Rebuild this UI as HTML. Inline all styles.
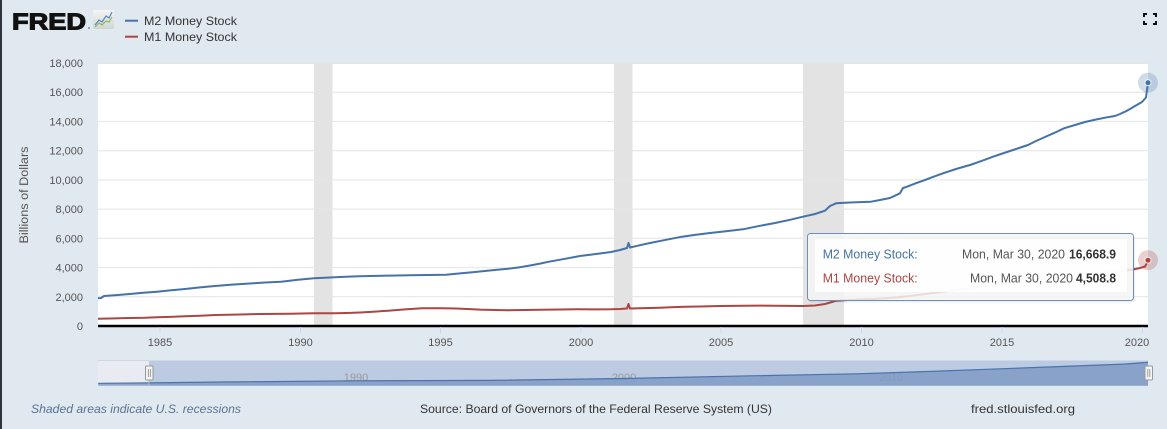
<!DOCTYPE html>
<html><head><meta charset="utf-8"><style>
html,body{margin:0;padding:0;background:#e1e9f0;}
svg{display:block;}
text{font-family:"Liberation Sans",sans-serif;}
</style></head><body>
<svg width="1167" height="429" viewBox="0 0 1167 429" xmlns="http://www.w3.org/2000/svg">
<rect x="0" y="0" width="1167" height="429" fill="#e1e9f0"/>
<rect x="0" y="0" width="2" height="429" fill="#2e353d"/>

<!-- logo -->
<text x="12" y="29.5" font-size="23" font-weight="bold" fill="#111" stroke="#111" stroke-width="1.1" textLength="74" lengthAdjust="spacingAndGlyphs">FRED</text>
<circle cx="89" cy="28" r="0.9" fill="#666"/>
<defs><linearGradient id="lg" x1="0" y1="0" x2="0" y2="1"><stop offset="0" stop-color="#f4f5f4"/><stop offset="1" stop-color="#cfd6d2"/></linearGradient></defs>
<rect x="93" y="10" width="21" height="19" rx="2" fill="url(#lg)"/>
<polyline points="95,25 99,20 102,22 106,16 109,18 112,12" fill="none" stroke="#5d85b8" stroke-width="1.2"/>
<polyline points="95,27 99,23 102,25 106,21 109,22 112,17" fill="none" stroke="#8cb860" stroke-width="1.2"/>

<!-- legend -->
<line x1="125" y1="20.7" x2="138" y2="20.7" stroke="#4572a7" stroke-width="2"/>
<text x="144" y="25" font-size="12" fill="#333" textLength="93" lengthAdjust="spacingAndGlyphs">M2 Money Stock</text>
<line x1="125" y1="36.7" x2="138" y2="36.7" stroke="#aa4643" stroke-width="2"/>
<text x="144" y="41" font-size="12" fill="#333" textLength="93" lengthAdjust="spacingAndGlyphs">M1 Money Stock</text>

<!-- fullscreen icon -->
<g stroke="#111" stroke-width="2" fill="none">
<polyline points="1144,17 1144,14 1147,14"/>
<polyline points="1153,14 1156,14 1156,17"/>
<polyline points="1144,21 1144,24 1147,24"/>
<polyline points="1153,24 1156,24 1156,21"/>
</g>

<!-- plot area -->
<rect x="98" y="63" width="1050" height="263" fill="#ffffff"/>
<!-- recessions -->
<rect x="314" y="63" width="18.5" height="263" fill="#e3e3e3"/>
<rect x="614" y="63" width="18.5" height="263" fill="#e3e3e3"/>
<rect x="803" y="63" width="41" height="263" fill="#e3e3e3"/>
<!-- gridlines -->
<g stroke="#e4e4e4" stroke-width="1">
<line x1="98" y1="63.5" x2="1148" y2="63.5"/>
<line x1="98" y1="92.2" x2="1148" y2="92.2"/>
<line x1="98" y1="121.4" x2="1148" y2="121.4"/>
<line x1="98" y1="150.7" x2="1148" y2="150.7"/>
<line x1="98" y1="179.9" x2="1148" y2="179.9"/>
<line x1="98" y1="209.1" x2="1148" y2="209.1"/>
<line x1="98" y1="238.3" x2="1148" y2="238.3"/>
<line x1="98" y1="267.6" x2="1148" y2="267.6"/>
<line x1="98" y1="296.8" x2="1148" y2="296.8"/>
</g>

<!-- y labels -->
<g font-size="11" fill="#555" text-anchor="end">
<text x="83" y="67">18,000</text>
<text x="83" y="96">16,000</text>
<text x="83" y="125.5">14,000</text>
<text x="83" y="154.7">12,000</text>
<text x="83" y="184">10,000</text>
<text x="83" y="213">8,000</text>
<text x="83" y="242.3">6,000</text>
<text x="83" y="271.6">4,000</text>
<text x="83" y="300.8">2,000</text>
<text x="83" y="330">0</text>
</g>
<text transform="translate(28,195) rotate(-90)" font-size="11.5" fill="#555" text-anchor="middle" textLength="97" lengthAdjust="spacingAndGlyphs">Billions of Dollars</text>

<!-- series -->
<polyline fill="none" stroke="#aa4643" stroke-width="2" stroke-linejoin="round" points="98,318.7 115,318.4 130,318 145,317.8 157,317.3 170,316.9 185,316.3 200,315.7 215.5,315 240,314.5 260,314 290,313.7 314,313.3 336,313.3 350,312.9 360,312.5 375,311.6 388,310.7 405,309.4 422,308.3 440,308.2 456,308.5 470,309.1 480,309.6 495,310 508,310.3 525,310 540,309.8 560,309.5 577,309.3 595,309.4 611,309.3 620,309 627,308.5 628.5,304 630,308.5 640,308.2 650,308 660,307.7 671,307.3 685,306.8 700,306.5 720,306 743,305.7 760,305.6 775,305.8 790,305.9 803,306 815,305.5 825,304 832,302 836,300.7 848,300 860,299.5 873,299 886,298.3 898,297.2 910,296 925,294 943,291.7 955,290 970,288 985,286 1000,284 1015,282.3 1030,280.5 1047,278.8 1064,277 1077,275.4 1090,274 1102,273 1114,272 1125,270.7 1133,269.5 1140,268 1145,266.5 1147,263 1148,260.2"/>
<polyline fill="none" stroke="#4572a7" stroke-width="2" stroke-linejoin="round" points="98,298.3 101,298 104,296 118,295 130,294 143,292.8 157,291.7 170,290.4 185,289 200,287.4 215,286 232,284.6 250,283.5 265,282.5 281,281.7 298,279.8 314,278.3 327,277.6 340,277 355,276.4 370,276 390,275.6 410,275.3 428,275 446,274.7 460,273.4 475,272 492,270.3 508,268.7 520,267.2 530,265.5 540,263.6 549,261.7 565,258.8 580,256 596,254 611,252 620,250 627,248 628.5,243 630,247.5 640,245.2 650,243 666,239.8 682,236.7 696,234.8 710,233 726,231.2 743,229.3 758,226.2 775,223 790,219.8 803,216.7 815,214 825,210.7 830,206 836,203.3 850,202.5 860,202.1 871,201.7 880,200 890,198 900,193.3 903,188 907,186.7 916,183.2 925,180 934,176.6 943,173.3 956,169 970,165 982,160.8 993,156.7 1001,154 1010,151 1019,148 1028,145 1036,141 1045,137 1055,132.6 1064,128.3 1075,125 1085,122 1096,119.5 1107,117.3 1115,116 1120,114 1125,111.7 1130,109 1135,106 1142,102 1146,97.5 1147,90 1148,82.7"/>

<!-- x axis -->
<line x1="98" y1="326" x2="1148" y2="326" stroke="#000" stroke-width="2.5"/>
<g stroke="#ccd6eb" stroke-width="1">
<line x1="160" y1="327" x2="160" y2="333"/>
<line x1="300.5" y1="327" x2="300.5" y2="333"/>
<line x1="440.5" y1="327" x2="440.5" y2="333"/>
<line x1="581" y1="327" x2="581" y2="333"/>
<line x1="721" y1="327" x2="721" y2="333"/>
<line x1="861.5" y1="327" x2="861.5" y2="333"/>
<line x1="1002" y1="327" x2="1002" y2="333"/>
<line x1="1142.5" y1="327" x2="1142.5" y2="333"/>
</g>
<g font-size="11" fill="#555" text-anchor="middle">
<text x="160" y="346">1985</text>
<text x="300.5" y="346">1990</text>
<text x="440.5" y="346">1995</text>
<text x="581" y="346">2000</text>
<text x="721" y="346">2005</text>
<text x="861.5" y="346">2010</text>
<text x="1002" y="346">2015</text>
<text x="1137" y="346">2020</text>
</g>

<!-- hover markers -->
<circle cx="1148" cy="82.7" r="10" fill="#4572a7" fill-opacity="0.25"/>
<circle cx="1148" cy="82.7" r="3" fill="#4572a7" stroke="#fff" stroke-width="0.8"/>
<circle cx="1148" cy="260.2" r="10" fill="#aa4643" fill-opacity="0.25"/>
<circle cx="1148" cy="260.2" r="3" fill="#aa4643" stroke="#fff" stroke-width="0.8"/>

<!-- tooltip -->
<rect x="809" y="235.5" width="326" height="67" rx="3" fill="#000" fill-opacity="0.06"/>
<rect x="807.5" y="233.5" width="326" height="67" rx="3" fill="#f7f7f7" fill-opacity="0.85" stroke="#6f8fbb" stroke-width="1"/>
<rect x="815" y="239" width="312" height="53" fill="#ffffff" fill-opacity="0.85"/>
<text x="822.7" y="258.5" font-size="12.5" fill="#4572a7" textLength="95" lengthAdjust="spacingAndGlyphs">M2 Money Stock:</text>
<text x="822.7" y="282.5" font-size="12.5" fill="#aa4643" textLength="95" lengthAdjust="spacingAndGlyphs">M1 Money Stock:</text>
<text x="962" y="258.5" font-size="12.5" fill="#555" textLength="103" lengthAdjust="spacingAndGlyphs">Mon, Mar 30, 2020</text>
<text x="1069" y="258.5" font-size="12.5" fill="#333" font-weight="bold" textLength="47" lengthAdjust="spacingAndGlyphs">16,668.9</text>
<text x="970" y="282.5" font-size="12.5" fill="#555" textLength="103" lengthAdjust="spacingAndGlyphs">Mon, Mar 30, 2020</text>
<text x="1076" y="282.5" font-size="12.5" fill="#333" font-weight="bold" textLength="40" lengthAdjust="spacingAndGlyphs">4,508.8</text>

<!-- navigator -->
<rect x="98" y="360.5" width="51" height="25.2" fill="#e8ecf2"/>
<line x1="98" y1="360.5" x2="149" y2="360.5" stroke="#cfd6df" stroke-width="1"/>
<rect x="149" y="360.5" width="999" height="25.2" fill="#bccbe2"/>
<g font-size="11" fill="#999" text-anchor="middle">
<text x="356" y="381">1990</text>
<text x="624" y="381">2000</text>
<text x="891" y="381">2010</text>
</g>
<path d="M98.2,383.3 L149,382.9 L168.5,382.6 L222.3,382 L356,380.8 L489.8,380.4 L623.5,378.5 L757.3,375.7 L856.2,373.8 L931.1,371.4 L1024.8,367.9 L1123.7,364.1 L1148,362.3 L1148,385.7 L98.2,385.7 Z" fill="#7f9bc6" fill-opacity="0.85"/>
<polyline fill="none" stroke="#4a74ab" stroke-width="1.2" points="98.2,383.3 149,382.9 168.5,382.6 222.3,382 356,380.8 489.8,380.4 623.5,378.5 757.3,375.7 856.2,373.8 931.1,371.4 1024.8,367.9 1123.7,364.1 1148,362.3"/>
<line x1="149" y1="380" x2="149" y2="386" stroke="#bbb" stroke-width="1"/>
<rect x="145.5" y="366" width="7.5" height="14" rx="1" fill="#f4f4f4" stroke="#999" stroke-width="1"/>
<line x1="148.3" y1="369" x2="148.3" y2="377" stroke="#888" stroke-width="0.8"/>
<line x1="150.3" y1="369" x2="150.3" y2="377" stroke="#888" stroke-width="0.8"/>
<rect x="1145" y="366" width="7.5" height="14" rx="1" fill="#f4f4f4" stroke="#999" stroke-width="1"/>
<line x1="1147.8" y1="369" x2="1147.8" y2="377" stroke="#888" stroke-width="0.8"/>
<line x1="1149.8" y1="369" x2="1149.8" y2="377" stroke="#888" stroke-width="0.8"/>

<!-- footer -->
<text x="31" y="413" font-size="12" font-style="italic" fill="#5b7294" textLength="210" lengthAdjust="spacingAndGlyphs">Shaded areas indicate U.S. recessions</text>
<text x="420" y="413" font-size="12" fill="#333" textLength="352" lengthAdjust="spacingAndGlyphs">Source: Board of Governors of the Federal Reserve System (US)</text>
<text x="971" y="413" font-size="12" fill="#333" textLength="104" lengthAdjust="spacingAndGlyphs">fred.stlouisfed.org</text>
</svg>
</body></html>
